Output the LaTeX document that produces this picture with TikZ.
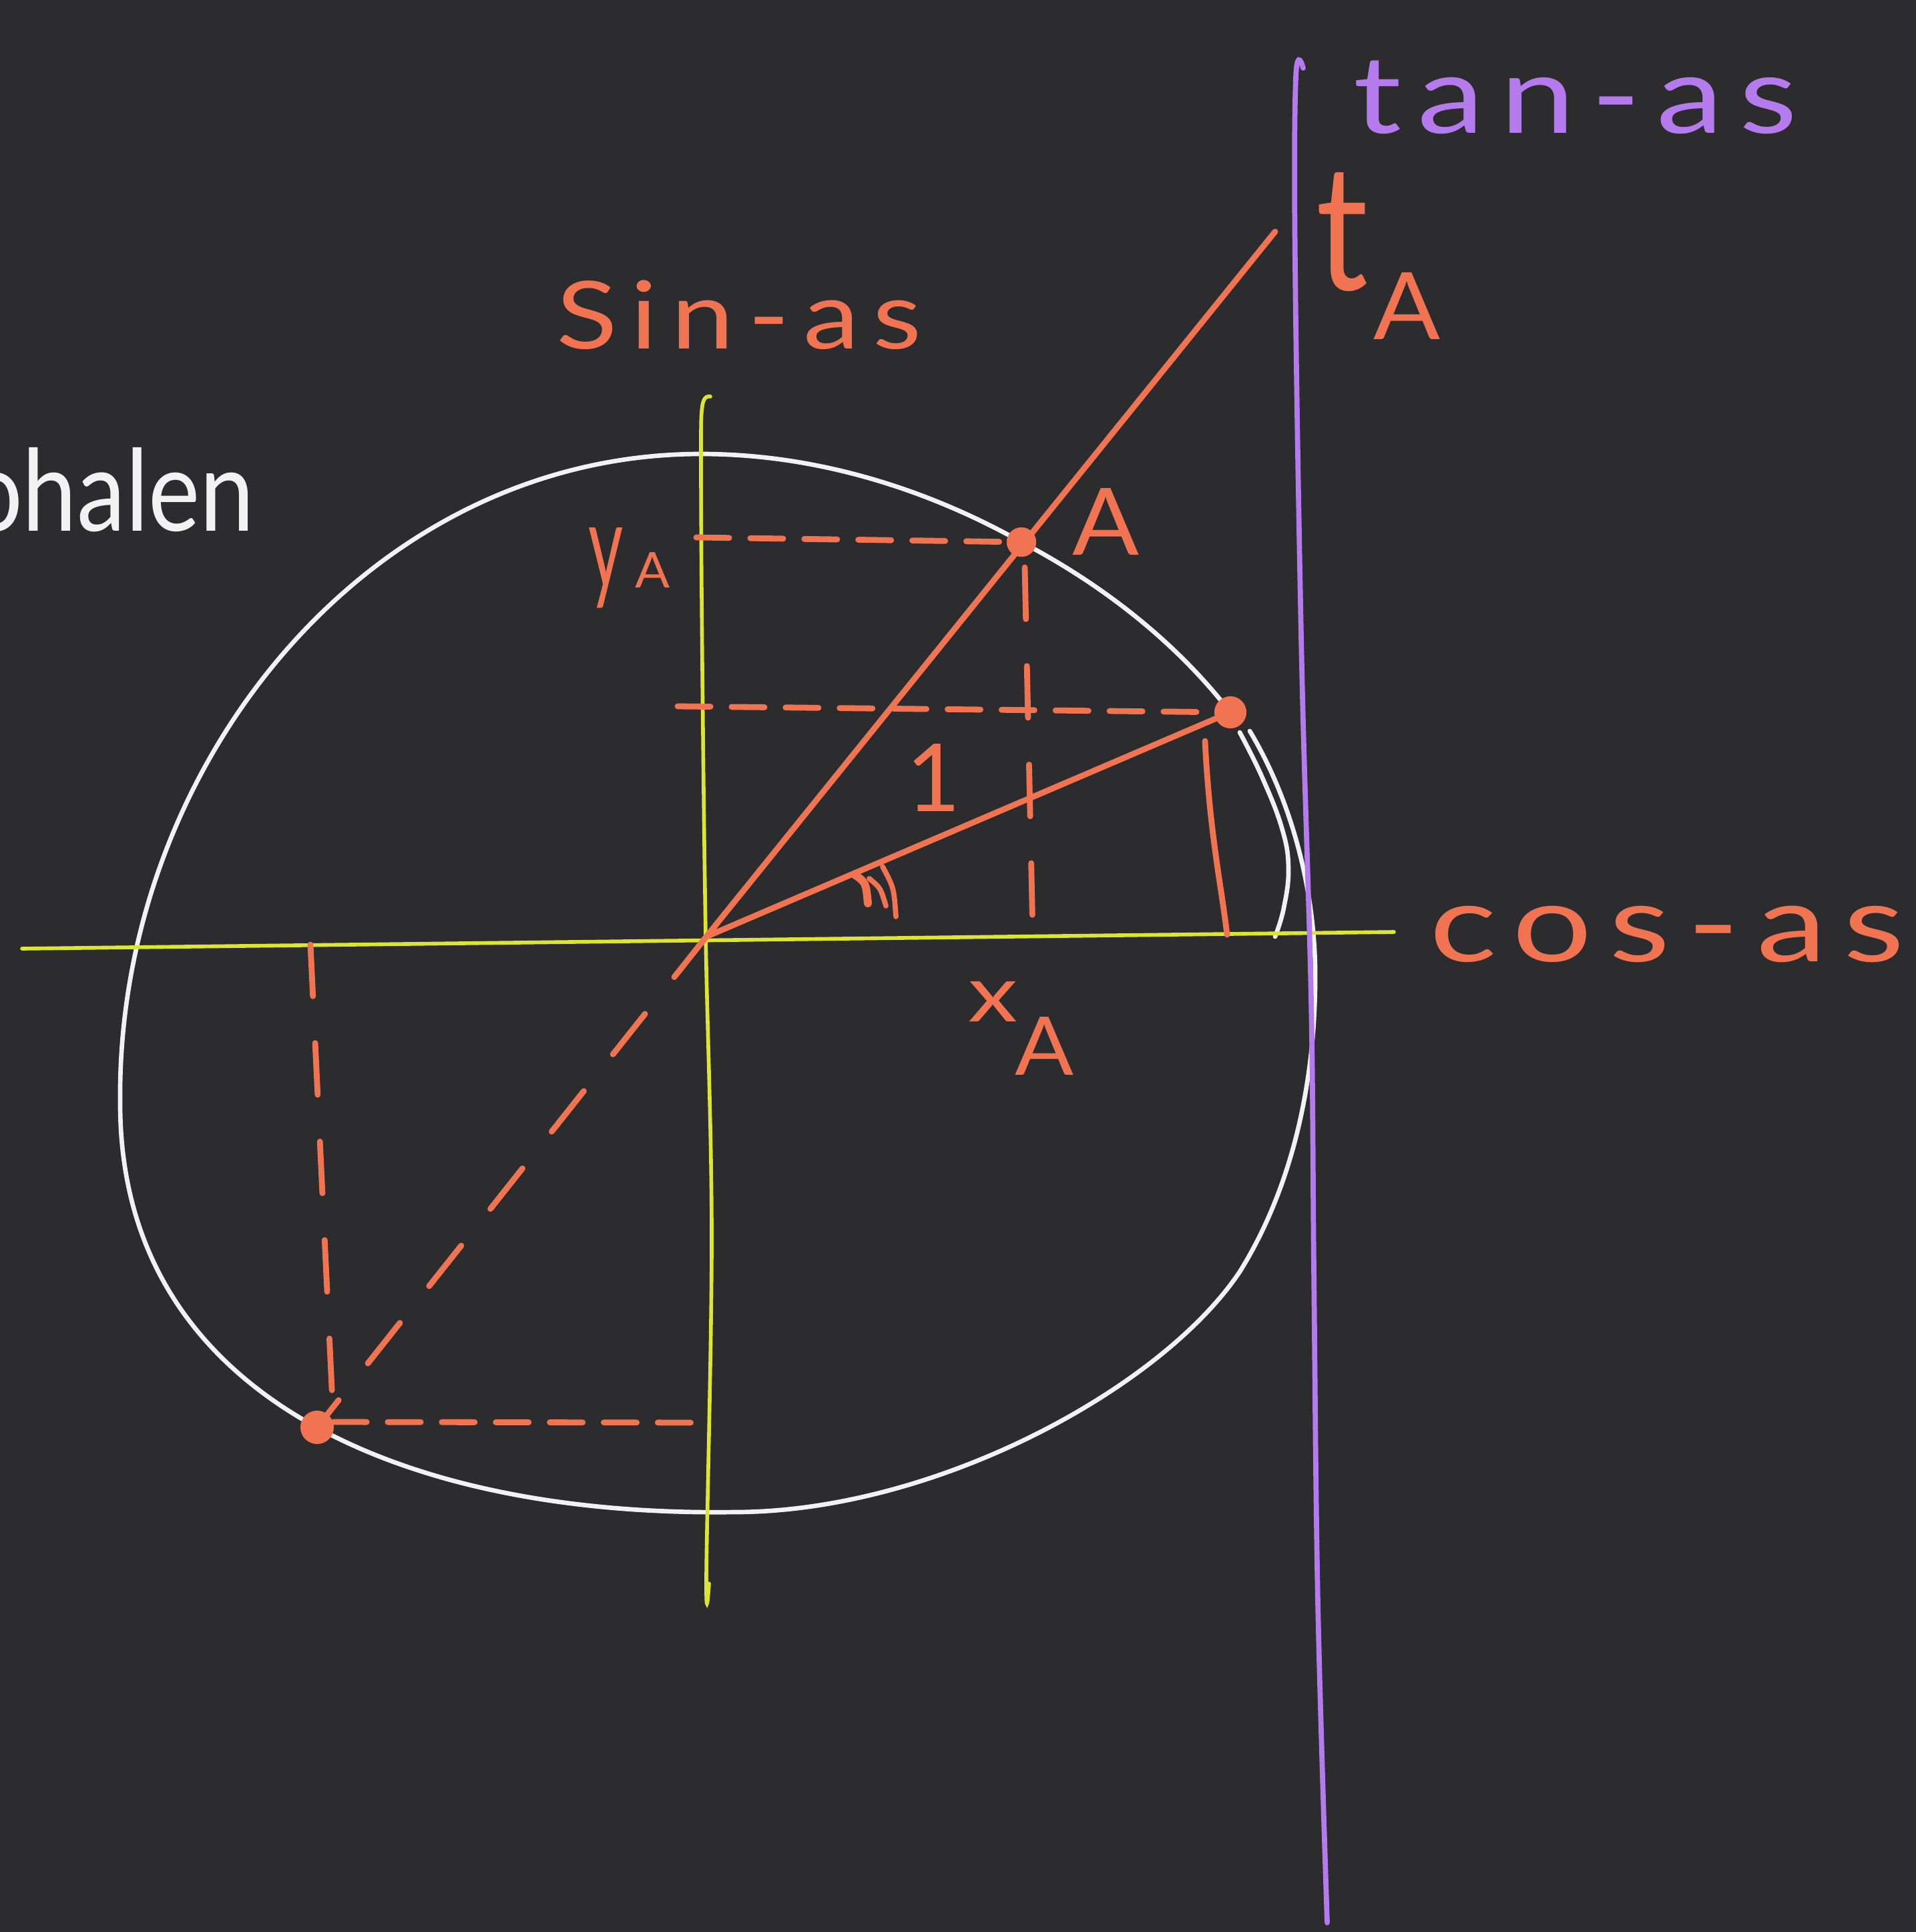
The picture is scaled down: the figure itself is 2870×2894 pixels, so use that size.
\documentclass[tikz,border=0pt]{standalone}
\usepackage{fontspec}
\usepackage{graphicx}
\newfontfamily\hand[LetterSpace=12]{Lato}
\newfontfamily\handn{Lato}
\newcommand\hw[3]{\resizebox{#1}{\height}{\fontsize{#2}{#2}\selectfont\hand #3}}
\newcommand\hb[3]{\resizebox{#1}{#2}{\fontsize{40}{40}\selectfont\handn #3}}
\definecolor{bg}{HTML}{2C2C2E}
\definecolor{ora}{HTML}{F07352}
\definecolor{yel}{HTML}{DCE532}
\definecolor{pur}{HTML}{B57BEC}
\definecolor{chalk}{HTML}{F2F2F2}
\tikzset{
  axisline/.style={draw=yel, line width=1.6pt, line cap=round},
  tanline/.style={draw=pur, line width=2.2pt, line cap=round},
  oline/.style={draw=ora, line width=2.5pt, line cap=round},
  odash/.style={draw=ora, line width=2.5pt, line cap=round, dash pattern=on 14pt off 9pt},
  odashwide/.style={draw=ora, line width=2.5pt, line cap=round, dash pattern=on 22pt off 20pt},
  wline/.style={draw=chalk, line width=1.9pt, line cap=round},
  pdot/.style={circle, fill=ora, inner sep=0pt, minimum size=#1},
  lbl/.style={inner sep=0pt, text=ora},
}
\begin{document}
\begin{tikzpicture}[x=0.01cm,y=-0.01cm]
\fill[bg] (0,0) rectangle (2870,2894);
\useasboundingbox (0,0) rectangle (2870,2894);

% key points
\coordinate (O) at (1058,1403);
\coordinate (T) at (1910,347);
\coordinate (xl) at (33,1421);
\coordinate (xr) at (2088,1396);

% dots
\node[pdot=12.5pt] (A) at (1530,812) {};
\node[pdot=13.5pt] (B) at (1843,1067) {};
\node[pdot=14pt] (C) at (475,2138) {};

% white circle (hand drawn)
\draw[wline] (1872,1095)
  .. controls (1935,1200) and (1968,1330) .. (1970,1450)
  .. controls (1972,1620) and (1935,1780) .. (1857,1905)
  .. controls (1740,2080) and (1400,2265) .. (1100,2265)
  .. controls (600,2272) and (178,2090) .. (180,1650)
  .. controls (175,1150) and (550,680) .. (1050,680)
  .. controls (1250,680) and (1420,750) .. (A.center)
  .. controls (1650,875) and (1760,960) .. (B.center);
\draw[wline] plot[smooth, tension=0.7] coordinates {
 (1857,1097) (1890,1163) (1920,1240) (1930,1300) (1923,1360) (1910,1403)};

% axes
\draw[axisline] (xl) -- (xr);
\draw[axisline] plot[smooth, tension=0.6] coordinates {
 (1064,594) (1052,608) (1050,700) (1052,1000) (1057,1400) (1066,1850) (1058,2360) (1062,2372)};

% tangent axis
\draw[tanline] plot[smooth, tension=0.6] coordinates {
 (1952,102) (1941,116) (1940,400) (1950,1000) (1964,1500) (1968,1900) (1974,2400) (1988,2880)};

% redraw dots on top
\fill[ora] (A) circle[radius=22];
\fill[ora] (B) circle[radius=24];
\fill[ora] (C) circle[radius=25];

% solid orange lines
\draw[oline] (O) -- (T);
\draw[oline] (O) -- (B);

% projections of A
\coordinate (yAp) at (1043,805);
\coordinate (xAp) at (1547,1400);
\draw[odash] (yAp) -- (A);
\draw[odashwide] (1535,850) -- (xAp);

% projection of B
\coordinate (yBp) at (1015,1058);
\coordinate (xBp) at (1838,1400);
\draw[odash] (yBp) -- (B);
\draw[oline] (1805,1110) .. controls (1812,1250) and (1830,1330) .. (xBp);

% lower-left point C
\coordinate (xCp) at (465,1415);
\coordinate (yCp) at (1066,2131);
\draw[odashwide] (O) -- (C);
\draw[odashwide] (xCp) -- (498,2100);
\draw[odash] (500,2130) -- (yCp);

% angle mark
\draw[oline, line width=3.4pt] (1280,1310) .. controls (1297,1322) .. (1300,1353);
\draw[oline, line width=2.2pt] (1302,1316) .. controls (1319,1330) .. (1327,1357);
\draw[oline, line width=2.2pt] (1322,1298) .. controls (1339,1330) .. (1342,1373);

% labels
\node[lbl, anchor=base] (sinlbl) at (1107,522) {\hw{5.47cm}{40}{Sin-as}};
\node[lbl, anchor=base, text=pur] (tanlbl) at (2360,200) {\hw{6.65cm}{46}{tan-as}};
\node[lbl, anchor=base] (coslbl) at (2497,1440) {\hw{7.11cm}{46}{cos-as}};
\node[lbl, anchor=base west] (Albl) at (1606,831) {\hb{1.0cm}{1.0cm}{A}};
\node[lbl, anchor=base west] (tAlbl) at (1971,434) {\hb{0.78cm}{1.76cm}{t}\kern0.08cm\raisebox{-0.74cm}{\hb{1.0cm}{1.0cm}{A}}};
\node[lbl, anchor=base west] (yAlbl) at (881,880) {\hb{0.52cm}{0.9cm}{y}\kern0.18cm\hb{0.52cm}{0.53cm}{A}};
\node[lbl, anchor=base west] (xAlbl) at (1450,1530) {\hb{0.74cm}{0.6cm}{x}\kern-0.04cm\raisebox{-0.8cm}{\hb{0.88cm}{0.87cm}{A}}};
\node[lbl, anchor=base] (onelbl) at (1398,1215) {\fontsize{40}{40}\selectfont\handn 1};
\node[lbl, anchor=base east, text=chalk] (wordlbl) at (382,795) {\resizebox{4.3cm}{1.25cm}{\fontsize{36}{36}\selectfont\handn ohalen}};
\end{tikzpicture}
\end{document}
